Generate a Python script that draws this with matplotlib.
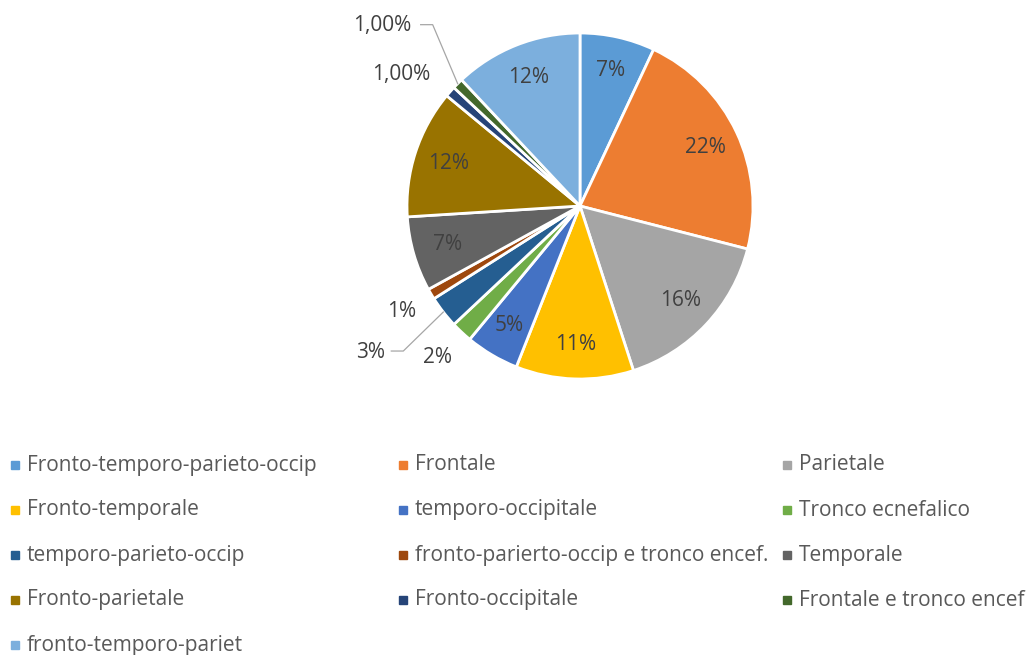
import numpy as np
import matplotlib.pyplot as plt

plt.rcParams['font.family'] = ['Open Sans', 'DejaVu Sans']

# --- dati ---
categorie = [
    'Fronto-temporo-parieto-occip', 'Frontale', 'Parietale',
    'Fronto-temporale', 'temporo-occipitale', 'Tronco ecnefalico',
    'temporo-parieto-occip', 'fronto-parierto-occip e tronco encef.', 'Temporale',
    'Fronto-parietale', 'Fronto-occipitale', 'Frontale e tronco encef',
    'fronto-temporo-pariet',
]
percentuali = [7, 22, 16, 11, 5, 2, 3, 1, 7, 12, 1, 1, 12]
etichette = ['7%', '22%', '16%', '11%', '5%', '2%', '3%', '1%', '7%', '12%',
             '1,00%', '1,00%', '12%']
colori = ['#5B9BD5', '#ED7D31', '#A5A5A5', '#FFC000', '#4472C4', '#70AD47',
          '#255E91', '#9E480E', '#636363', '#997300', '#264478', '#43682B',
          '#7CAFDD']

# --- layout (pixel) ---
W, H = 1032, 655
cx, cy, R = 580, H - 206, 173
# distanza etichetta (frazione del raggio), interne a 0.8
dist_etichette = [0.8] * 13
dist_etichette[5] = 1.2
dist_etichette[7] = 1.2
dist_etichette[10] = 1.25
# piccoli spostamenti manuali delle etichette esterne
spost = {10: (-17, -12)}
# etichette con linea guida: offset (dx, dy) dal bordo dello spicchio
guida = {6: (-73, -40), 11: (-75, 58)}

fig = plt.figure(figsize=(W / 100, H / 100), dpi=100)
ax = fig.add_axes([0, 0, 1, 1])

wedges, _ = ax.pie(percentuali, colors=colori, startangle=90, counterclock=False,
                   center=(cx, cy), radius=R, frame=True,
                   wedgeprops=dict(edgecolor='white', linewidth=2))
ax.set_xlim(0, W)
ax.set_ylim(0, H)
ax.set_aspect('equal')
ax.axis('off')

col_testo = '#404040'
fs = 15
for i, w in enumerate(wedges):
    ang = np.deg2rad((w.theta1 + w.theta2) / 2)
    ux, uy = np.cos(ang), np.sin(ang)
    if i in guida:
        dx, dy = guida[i]
        ex, ey = cx + R * ux, cy + R * uy
        tx, ty = ex + dx, ey + dy
        half = 13 if len(etichette[i]) <= 3 else 30
        ax.plot([ex, tx + half + 20, tx + half + 8], [ey, ty + 1, ty + 1],
                color='#A6A6A6', lw=0.9)
        ax.text(tx, ty, etichette[i], ha='center', va='center',
                fontsize=fs, color=col_testo)
    else:
        d = dist_etichette[i] * R
        sx, sy = spost.get(i, (0, 0))
        ax.text(cx + d * ux + sx, cy + d * uy + sy, etichette[i],
                ha='center', va='center', fontsize=fs, color=col_testo)

# --- legenda (3 colonne, ordine per righe) ---
x_col = [15, 403, 787]
y0, dy_riga = H - 465, 45
for i, (nome, c) in enumerate(zip(categorie, colori)):
    r, k = divmod(i, 3)
    x, y = x_col[k], y0 - r * dy_riga
    ax.plot(x, y, marker='s', markersize=6, color=c, linestyle='none')
    ax.text(x + 12, y, nome, ha='left', va='center', fontsize=fs,
            color='#595959')

fig.savefig('out.png', dpi=100)
